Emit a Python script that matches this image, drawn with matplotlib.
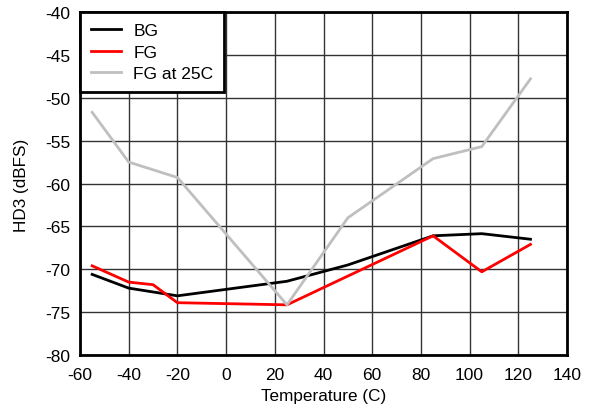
import matplotlib
matplotlib.use("Agg")
import matplotlib.pyplot as plt

plt.rcParams['font.family'] = ['Liberation Sans', 'DejaVu Sans']
plt.rcParams['axes.unicode_minus'] = False

bg_x = [-55, -40, -20, 25, 50, 85, 105, 125]
bg_y = [-70.6, -72.2, -73.1, -71.4, -69.5, -66.1, -65.85, -66.5]

fg_x = [-55, -40, -30, -20, 25, 85, 105, 125]
fg_y = [-69.6, -71.5, -71.8, -73.9, -74.15, -66.1, -70.3, -67.1]

fg25_x = [-55, -40, -20, 25, 50, 85, 105, 125]
fg25_y = [-51.7, -57.5, -59.3, -74.15, -64.0, -57.1, -55.7, -47.8]

xticks = list(range(-60, 141, 20))
yticks = list(range(-80, -39, 5))

W, H = 591, 410
fig = plt.figure(figsize=(W / 100, H / 100), dpi=100)
ax = fig.add_axes([80 / W, 1 - 356 / H, 487 / W, 343 / H])

ax.plot(bg_x, bg_y, color='black', lw=2, label='BG', zorder=3)
ax.plot(fg_x, fg_y, color='#ff0000', lw=2, label='FG', zorder=3)
ax.plot(fg25_x, fg25_y, color='#bfbfbf', lw=2, label='FG at 25C', zorder=3)

ax.set_xlim(-60, 140)
ax.set_ylim(-80, -40)
ax.set_xticks(xticks)
ax.set_yticks(yticks)
ax.grid(True, color='#333333', lw=1)
ax.tick_params(length=0, labelsize=12.5)
ax.tick_params(axis='x', pad=9)
ax.tick_params(axis='y', pad=7)
for s in ax.spines.values():
    s.set_linewidth(2)
    s.set_color('black')

fig.text(323.5 / W, 1 - 397 / H, 'Temperature (C)', fontsize=12.3,
         ha='center', va='center')
fig.text(22 / W, 1 - 185 / H, 'HD3 (dBFS)', fontsize=12.3,
         ha='center', va='center', rotation=90)

leg = ax.legend(loc='upper left', fontsize=12.5, frameon=True, fancybox=False,
                borderaxespad=0, handlelength=1.75, handletextpad=0.7,
                labelspacing=0.38, borderpad=0.62)
leg.get_frame().set_edgecolor('black')
leg.get_frame().set_linewidth(2)
leg.get_frame().set_alpha(1)

fig.savefig('out.png', dpi=100)
